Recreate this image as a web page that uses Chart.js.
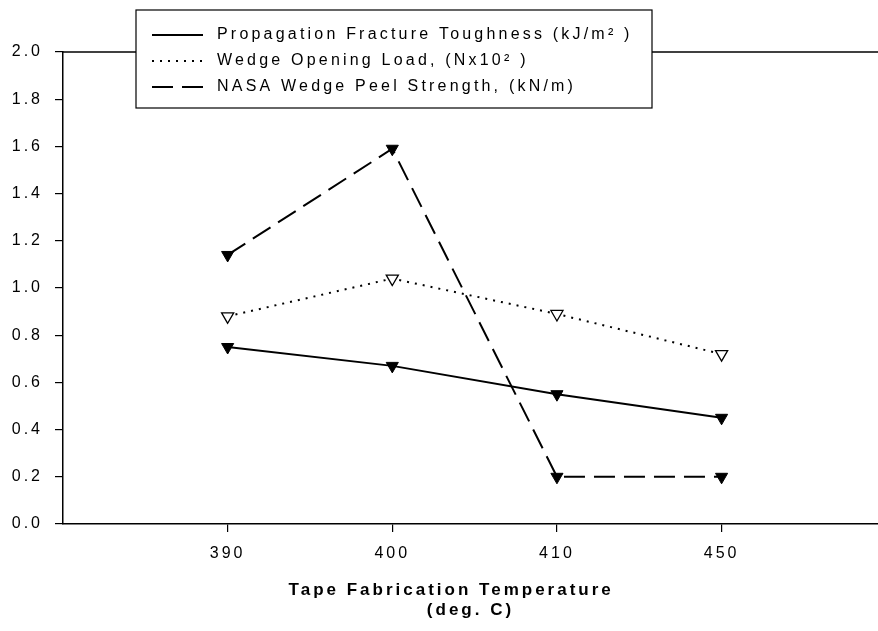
<!DOCTYPE html>
<html>
<head>
<meta charset="utf-8">
<script src="https://cdn.jsdelivr.net/npm/chart.js@4.4.0/dist/chart.umd.min.js"></script>
<style>
  html, body { margin: 0; padding: 0; background: #fff; overflow: hidden; }
  #wrap { width: 878px; height: 631px; }
</style>
</head>
<body>
<div id="wrap"><canvas id="chart"></canvas></div>
<script>
const temps = ['390', '400', '410', '450'];
const toughness = [0.75, 0.67, 0.55, 0.45];
const wedgeLoad = [0.88, 1.04, 0.89, 0.72];
const peelStrength = [1.14, 1.59, 0.20, 0.20];
const yTicks = [0.0, 0.2, 0.4, 0.6, 0.8, 1.0, 1.2, 1.4, 1.6, 1.8, 2.0];
const seriesLabels = [
    'Propagation Fracture Toughness (kJ/m\u00B2 )',
    'Wedge Opening Load, (Nx10\u00B2 )',
    'NASA Wedge Peel Strength, (kN/m)'
];
const xTitle = ['Tape Fabrication Temperature     ', '(deg. C)'];

const FONT = "'Liberation Sans', Arial, sans-serif";

const toXY = (arr) => arr.map((v, i) => ({ x: i, y: v }));

// canvas state is reset on resize, so spacing is set before each draw
const spacingPlugin = {
    id: 'spacing',
    beforeDraw(chart) {
        chart.ctx.letterSpacing = '3px';
    }
};

// top frame line of the plot, legend box sits over it
const frameTop = {
    id: 'frameTop',
    beforeDatasetsDraw(chart) {
        const { ctx, chartArea } = chart;
        ctx.save();
        ctx.strokeStyle = '#000';
        ctx.lineWidth = 1.5;
        ctx.beginPath();
        ctx.moveTo(chartArea.left, chartArea.top);
        ctx.lineTo(chartArea.right, chartArea.top);
        ctx.stroke();
        ctx.restore();
    }
};

const boxLegend = {
    id: 'boxLegend',
    afterDraw(chart) {
        const ctx = chart.ctx;
        const x0 = 136, y0 = 10, w = 516, h = 98;
        ctx.save();
        ctx.fillStyle = '#fff';
        ctx.fillRect(x0, y0, w, h);
        ctx.strokeStyle = '#000';
        ctx.lineWidth = 1.2;
        ctx.strokeRect(x0, y0, w, h);
        const rows = [35, 61, 87];
        chart.data.datasets.forEach((ds, i) => {
            const y = rows[i];
            ctx.beginPath();
            ctx.setLineDash(ds.borderDash || []);
            ctx.lineWidth = ds.borderWidth;
            ctx.strokeStyle = '#000';
            ctx.moveTo(152, y);
            ctx.lineTo(203, y);
            ctx.stroke();
            ctx.setLineDash([]);
            ctx.fillStyle = '#000';
            ctx.font = '16px ' + FONT;
            ctx.letterSpacing = '3.2px';
            ctx.textBaseline = 'middle';
            ctx.textAlign = 'left';
            ctx.fillText(ds.label, 217, y);
        });
        ctx.restore();
    }
};

new Chart(document.getElementById('chart'), {
    type: 'line',
    data: {
        datasets: [
            {
                label: seriesLabels[0],
                data: toXY(toughness),
                borderColor: '#000',
                borderWidth: 2,
                pointStyle: 'triangle',
                rotation: 180,
                pointRadius: 7,
                pointBackgroundColor: '#000',
                pointBorderColor: '#000',
                pointBorderWidth: 1
            },
            {
                label: seriesLabels[1],
                data: toXY(wedgeLoad),
                borderColor: '#000',
                borderWidth: 2,
                borderDash: [2, 6],
                pointStyle: 'triangle',
                rotation: 180,
                pointRadius: 7,
                pointBackgroundColor: '#fff',
                pointBorderColor: '#000',
                pointBorderWidth: 1.3
            },
            {
                label: seriesLabels[2],
                data: toXY(peelStrength),
                borderColor: '#000',
                borderWidth: 2,
                borderDash: [21, 9],
                pointStyle: 'triangle',
                rotation: 180,
                pointRadius: 7,
                pointBackgroundColor: '#000',
                pointBorderColor: '#000',
                pointBorderWidth: 1
            }
        ]
    },
    options: {
        responsive: true,
        maintainAspectRatio: false,
        animation: false,
        devicePixelRatio: 1,
        layout: { autoPadding: false, padding: { top: 52, right: 0, left: 0, bottom: 0 } },
        plugins: {
            legend: { display: false },
            tooltip: { enabled: false }
        },
        scales: {
            x: {
                type: 'linear',
                min: -1,
                max: 3.95,
                afterBuildTicks: (s) => { s.ticks = temps.map((t, i) => ({ value: i })); },
                afterFit: (s) => { s.height = 107; },
                ticks: {
                    callback: (v) => temps[v],
                    color: '#000',
                    font: { family: FONT, size: 16 },
                    padding: 12,
                    maxRotation: 0
                },
                grid: {
                    drawOnChartArea: false,
                    drawTicks: true,
                    tickLength: 8,
                    color: '#000',
                    lineWidth: 1.2
                },
                border: { color: '#000', width: 1.5 },
                title: {
                    display: true,
                    text: xTitle,
                    color: '#000',
                    font: { family: FONT, size: 17, weight: 'bold', lineHeight: 1.15 },
                    padding: { top: 0, bottom: 11 }
                }
            },
            y: {
                min: 0,
                max: 2,
                afterBuildTicks: (s) => { s.ticks = yTicks.map(v => ({ value: v })); },
                afterFit: (s) => { s.width = 63; },
                ticks: {
                    callback: (v) => v.toFixed(1),
                    color: '#000',
                    font: { family: FONT, size: 16 },
                    padding: 12
                },
                grid: {
                    drawOnChartArea: false,
                    drawTicks: true,
                    tickLength: 8,
                    color: '#000',
                    lineWidth: 1.2
                },
                border: { color: '#000', width: 1.5 }
            }
        }
    },
    plugins: [spacingPlugin, frameTop, boxLegend]
});
</script>
</body>
</html>
